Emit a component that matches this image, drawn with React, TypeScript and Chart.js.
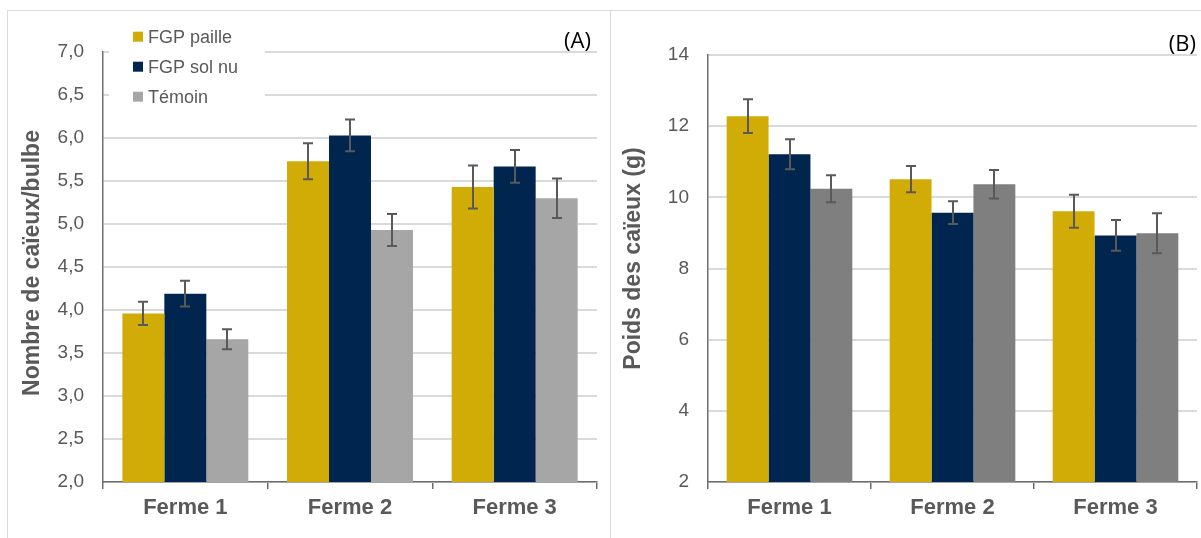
import React, { useEffect, useRef } from "react";
import { Chart, registerables } from "chart.js";

Chart.register(...registerables);

// ---------- DATA ----------
const categories = ["Ferme 1", "Ferme 2", "Ferme 3"];
const seriesNames = ["FGP paille", "FGP sol nu", "Témoin"];

// (A) Nombre de caïeux/bulbe
const caieuxPaille = [3.96, 5.73, 5.43];
const caieuxSolNu = [4.19, 6.03, 5.67];
const caieuxTemoin = [3.66, 4.93, 5.3];
const caieuxPailleErr = [0.135, 0.21, 0.25];
const caieuxSolNuErr = [0.15, 0.185, 0.19];
const caieuxTemoinErr = [0.115, 0.185, 0.23];
const yTicksA = [2.0, 2.5, 3.0, 3.5, 4.0, 4.5, 5.0, 5.5, 6.0, 6.5, 7.0];

// (B) Poids des caïeux (g)
const poidsPaille = [12.28, 10.51, 9.61];
const poidsSolNu = [11.21, 9.57, 8.93];
const poidsTemoin = [10.24, 10.37, 8.99];
const poidsPailleErr = [0.475, 0.37, 0.465];
const poidsSolNuErr = [0.42, 0.32, 0.43];
const poidsTemoinErr = [0.38, 0.4, 0.56];
const yTicksB = [2, 4, 6, 8, 10, 12, 14];

// ---------- STYLE ----------
const YELLOW = "#D1AC06";
const NAVY = "#00264F";
const GRAY_A = "#A6A6A6";
const GRAY_B = "#7F7F7F";
const TEXT = "#595959";
const AXIS = "#6E6E6E";
const GRID = "#DADADA";
const FONT = "'Liberation Sans', Arial, sans-serif";

const errorBarPlugin = {
  id: "errorBars",
  afterDatasetsDraw(chart: any, _args: any, opts: any) {
    const errs = opts && opts.errors;
    if (!errs) return;
    const ctx = chart.ctx;
    const ys = chart.scales.y;
    ctx.save();
    ctx.strokeStyle = "#595959";
    ctx.lineWidth = 2;
    chart.data.datasets.forEach((ds: any, i: number) => {
      const meta = chart.getDatasetMeta(i);
      meta.data.forEach((bar: any, j: number) => {
        const v = ds.data[j];
        const e = errs[i][j];
        const x = Math.round(bar.x);
        const yt = ys.getPixelForValue(v + e);
        const yb = ys.getPixelForValue(v - e);
        ctx.beginPath();
        ctx.moveTo(x, yt);
        ctx.lineTo(x, yb);
        ctx.moveTo(x - 5, yt);
        ctx.lineTo(x + 5, yt);
        ctx.moveTo(x - 5, yb);
        ctx.lineTo(x + 5, yb);
        ctx.stroke();
      });
    });
    ctx.restore();
  },
};

const boxLegendPlugin = {
  id: "boxLegend",
  afterDraw(chart: any, _args: any, opts: any) {
    if (!opts || !opts.display) return;
    const ctx = chart.ctx;
    ctx.save();
    ctx.fillStyle = "#FFFFFF";
    ctx.fillRect(opts.x, opts.y, opts.w, opts.h);
    ctx.font = `18px ${FONT}`;
    ctx.textBaseline = "middle";
    ctx.textAlign = "left";
    chart.data.datasets.forEach((ds: any, i: number) => {
      const cy = opts.firstRow + i * opts.rowGap;
      ctx.fillStyle = ds.backgroundColor;
      ctx.fillRect(opts.boxX, cy - 5, 10, 10);
      ctx.fillStyle = TEXT;
      ctx.fillText(ds.label, opts.boxX + 15, cy + 1);
    });
    ctx.restore();
  },
};

const yTitlePlugin = {
  id: "yTitle",
  afterDraw(chart: any, _args: any, opts: any) {
    if (!opts || !opts.text) return;
    const ctx = chart.ctx;
    ctx.save();
    ctx.translate(opts.cx, opts.cy);
    ctx.rotate(-Math.PI / 2);
    ctx.font = `bold 23px ${FONT}`;
    ctx.fillStyle = TEXT;
    ctx.textAlign = "center";
    ctx.textBaseline = "middle";
    ctx.fillText(opts.text, 0, 0);
    ctx.restore();
  },
};

function makeConfig(p: any) {
  return {
    type: "bar",
    data: {
      labels: categories,
      datasets: p.series.map((s: number[], i: number) => ({
        label: seriesNames[i],
        data: s,
        backgroundColor: p.colors[i],
        borderWidth: 0,
        categoryPercentage: p.catPct,
        barPercentage: 1,
      })),
    },
    options: {
      responsive: false,
      animation: false,
      events: [],
      layout: { padding: { top: p.padTop, right: p.padRight, left: 0, bottom: 0 } },
      plugins: {
        legend: { display: false },
        tooltip: { enabled: false },
        errorBars: { errors: p.errors },
        boxLegend: p.legend,
        yTitle: p.yTitle,
      },
      scales: {
        x: {
          grid: {
            display: true,
            drawOnChartArea: false,
            drawTicks: true,
            tickLength: 7,
            offset: true,
            color: AXIS,
            lineWidth: 1.5,
          },
          border: { display: true, color: AXIS, width: 1.5 },
          ticks: {
            color: TEXT,
            font: { family: FONT, size: 22, weight: "bold" },
            padding: 6,
            maxRotation: 0,
          },
          afterFit: (s: any) => {
            s.height = p.xH;
          },
        },
        y: {
          min: p.ticks[0],
          max: p.ticks[p.ticks.length - 1],
          afterBuildTicks: (s: any) => {
            s.ticks = p.ticks.map((v: number) => ({ value: v }));
          },
          ticks: {
            color: TEXT,
            font: { family: FONT, size: 19 },
            padding: 19,
            callback: p.fmt,
          },
          grid: { color: GRID, lineWidth: 2, drawTicks: false },
          border: { display: true, color: AXIS, width: 1.5 },
          title: { display: false },
          afterFit: (s: any) => {
            s.width = p.yW;
          },
        },
      },
    },
    plugins: [errorBarPlugin, boxLegendPlugin, yTitlePlugin],
  };
}

function ChartCanvas(props: { cfg: any; left: number; top: number; width: number; height: number }) {
  const ref = useRef<HTMLCanvasElement | null>(null);
  useEffect(() => {
    if (!ref.current) return;
    const chart = new Chart(ref.current, props.cfg);
    return () => chart.destroy();
  }, []);
  return (
    <canvas
      ref={ref}
      width={props.width}
      height={props.height}
      style={{ position: "absolute", left: props.left, top: props.top, width: props.width, height: props.height }}
    />
  );
}

export default function App() {
  const cfgA = makeConfig({
    series: [caieuxPaille, caieuxSolNu, caieuxTemoin],
    errors: [caieuxPailleErr, caieuxSolNuErr, caieuxTemoinErr],
    colors: [YELLOW, NAVY, GRAY_A],
    ticks: yTicksA,
    fmt: (v: any) => Number(v).toFixed(1).replace(".", ","),
    yTitle: { text: "Nombre de caïeux/bulbe", cx: 25, cy: 252 },
    catPct: 0.765,
    padTop: 41,
    padRight: 12,
    yW: 95,
    xH: 56,
    legend: { display: true, x: 101, y: 9, w: 156, h: 93, boxX: 125, firstRow: 25.7, rowGap: 30 },
  });
  const cfgB = makeConfig({
    series: [poidsPaille, poidsSolNu, poidsTemoin],
    errors: [poidsPailleErr, poidsSolNuErr, poidsTemoinErr],
    colors: [YELLOW, NAVY, GRAY_B],
    ticks: yTicksB,
    fmt: (v: any) => String(v),
    yTitle: { text: "Poids des caïeux (g)", cx: 23, cy: 247.5 },
    catPct: 0.771,
    padTop: 44,
    padRight: 4,
    yW: 97,
    xH: 56,
    legend: { display: false },
  });

  const labelStyle: any = {
    position: "absolute",
    fontFamily: "'Open Sans', 'Noto Sans', sans-serif",
    fontSize: 22,
    color: "#000",
    lineHeight: "24px",
    textAlign: "right",
    width: 60,
  };

  return (
    <div
      style={{
        position: "absolute",
        left: 0,
        top: 0,
        width: 1201,
        height: 538,
        overflow: "hidden",
        background: "#fff",
      }}
    >
      <div
        style={{
          position: "absolute",
          left: 7,
          top: 10,
          width: 604,
          height: 700,
          boxSizing: "border-box",
          border: "1px solid #D9D9D9",
        }}
      />
      <div
        style={{
          position: "absolute",
          left: 610,
          top: 10,
          width: 700,
          height: 700,
          boxSizing: "border-box",
          border: "1px solid #D9D9D9",
        }}
      />
      <ChartCanvas cfg={cfgA} left={8} top={11} width={601} height={527} />
      <ChartCanvas cfg={cfgB} left={611} top={11} width={590} height={527} />
      <div style={{ ...labelStyle, left: 591 - 60, top: 27 }}>(A)</div>
      <div style={{ ...labelStyle, left: 1196 - 60, top: 30 }}>(B)</div>
    </div>
  );
}
